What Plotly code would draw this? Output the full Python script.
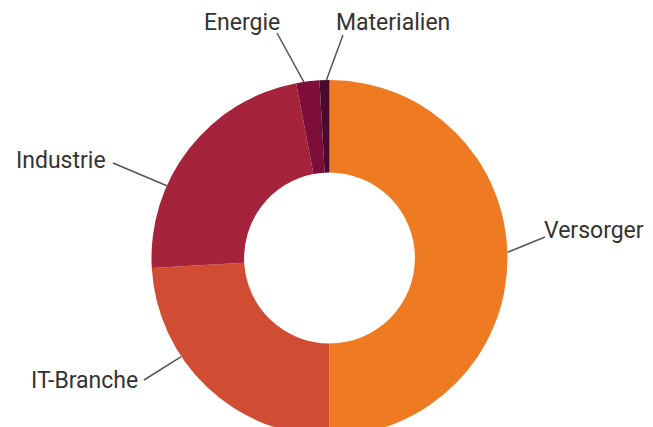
import math
import plotly.graph_objects as go

# ---- data ----
labels = ["Versorger", "IT-Branche", "Industrie", "Energie", "Materialien"]
values = [50.0, 24.1, 22.9, 2.1, 0.9]
colors = ["#EE7A22", "#D04D33", "#A6243B", "#7D0E3A", "#4B0A2D"]

# ---- layout geometry ----
OFF = 8                  # page body margin offsets the figure
W, H = 653, 440          # figure slightly taller than the window -> bottom cropped
R = 178.0                # outer radius in px
CX, CY = 329.5, 258.0    # pie centre in screen px

def px(x, y):
    """screen px -> paper coords"""
    return (x - OFF) / W, 1 - (y - OFF) / H

# where on each slice the leader line touches (fraction of the slice's arc)
touch_frac = [0.49, 0.65, 0.33, 0.33, 0.70]
# label centres and leader-line ends next to the labels (screen px)
label_pos = [(594, 230), (84, 380), (61, 160), (242, 23), (393, 23)]
line_end = [(545, 237), (144, 380), (113, 163), (277, 33), (343, 35)]

x0d, y1d = px(CX - R, CY - R)
x1d, y0d = px(CX + R, CY + R)
fig = go.Figure(go.Pie(
    labels=labels, values=values, sort=False, direction="clockwise",
    rotation=0, hole=0.48, textinfo="none", hoverinfo="label+percent",
    marker=dict(colors=colors, line=dict(width=0)),
    domain=dict(x=[x0d, x1d], y=[y0d, y1d]),
    showlegend=False,
))

total = sum(values)
cum = 0.0
shapes, annotations = [], []
for lab, v, f, (lx, ly), (ex, ey) in zip(labels, values, touch_frac, label_pos, line_end):
    ang = 2 * math.pi * (cum + f * v) / total
    cum += v
    sx = CX + R * math.sin(ang)
    sy = CY - R * math.cos(ang)
    x0, y0 = px(sx, sy)
    x1, y1 = px(ex, ey)
    shapes.append(dict(type="line", xref="paper", yref="paper",
                       x0=x0, y0=y0, x1=x1, y1=y1,
                       line=dict(color="#555555", width=1.5)))
    ax_, ay_ = px(lx, ly)
    annotations.append(dict(text=lab, x=ax_, y=ay_, xref="paper", yref="paper",
                            showarrow=False, xanchor="center", yanchor="middle",
                            font=dict(family="Roboto", size=23, color="#333333")))

fig.update_layout(
    width=W, height=H, margin=dict(l=0, r=0, t=0, b=0),
    paper_bgcolor="white", plot_bgcolor="white",
    shapes=shapes, annotations=annotations,
)

fig.write_html("out.html")
